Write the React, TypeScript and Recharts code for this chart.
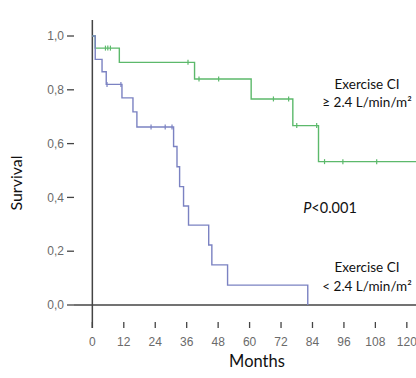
import React from 'react';
import {
  ComposedChart,
  Line,
  Scatter,
  XAxis,
  YAxis,
  ReferenceLine,
} from 'recharts';

// Kaplan–Meier steps: month at which survival changes, and the new survival
const highMonths = [0, 1.1, 10.3, 39, 60.6, 76.5, 86.3, 123.5];
const highSurvival = [1.0, 0.955, 0.902, 0.84, 0.766, 0.667, 0.533, 0.533];
const highCensorMonths = [5.0, 5.9, 6.9, 36.5, 40.7, 48.2, 69.1, 74.9, 78.0, 85.6, 88.6, 95.6, 108.5];
const highCensorSurvival = [0.955, 0.955, 0.955, 0.902, 0.84, 0.84, 0.766, 0.766, 0.667, 0.667, 0.533, 0.533, 0.533];

const lowMonths = [0, 1.1, 3.7, 5.3, 11.3, 15.5, 17, 31, 32.3, 33.3, 34.8, 36.7, 44.4, 45.6, 51.6, 82.2];
const lowSurvival = [1.0, 0.913, 0.867, 0.82, 0.77, 0.718, 0.662, 0.589, 0.514, 0.44, 0.368, 0.297, 0.223, 0.149, 0.074, 0];
const lowCensorMonths = [5.6, 10.9, 22.4, 27.8, 30.4];
const lowCensorSurvival = [0.82, 0.82, 0.662, 0.662, 0.662];

const monthTicks = [0, 12, 24, 36, 48, 60, 72, 84, 96, 108, 120];
const survivalTicks = [0, 0.2, 0.4, 0.6, 0.8, 1.0];

const GREEN = '#5cb96b';
const BLUE = '#7b82c2';
const AXIS = '#444';
const TICK_TEXT = '#6a6a6a';

const toPoints = (xs: number[], ys: number[]) => xs.map((t, i) => ({ t, s: ys[i] }));

const highData = toPoints(highMonths, highSurvival);
const lowData = toPoints(lowMonths, lowSurvival);
const highCensor = toPoints(highCensorMonths, highCensorSurvival);
const lowCensor = toPoints(lowCensorMonths, lowCensorSurvival);

const censorMark = (color: string) => (props: any) => {
  const { cx, cy } = props;
  return <line x1={cx} x2={cx} y1={cy - 2.5} y2={cy + 2.5} stroke={color} strokeWidth={1.2} />;
};

const MonthTick = (props: any) => {
  const { x, y, payload } = props;
  return (
    <g>
      <line x1={x} x2={x} y1={y - 12} y2={y - 6} stroke={AXIS} strokeWidth={1.3} />
      <text x={x} y={y + 12} textAnchor="middle" fontSize={12} fill={TICK_TEXT}
        fontFamily="'Liberation Sans', Arial, sans-serif">
        {payload.value}
      </text>
    </g>
  );
};

const fmtSurvival = (v: number) => v.toFixed(1).replace('.', ',');

export default function App() {
  const font = "Lato, 'Open Sans', sans-serif";
  return (
    <div style={{ position: 'absolute', left: 0, top: 0, width: 416, height: 378, background: '#fff' }}>
      <ComposedChart
        width={416}
        height={378}
        margin={{ top: 20, right: 0, bottom: 0, left: 0 }}
      >
        <XAxis
          dataKey="t"
          type="number"
          domain={[-7, 123.5]}
          allowDataOverflow
          ticks={monthTicks}
          axisLine={false}
          tickLine={false}
          tickSize={6}
          tickMargin={0}
          height={50}
          tick={<MonthTick />}
          interval={0}
        />
        <YAxis
          dataKey="s"
          type="number"
          domain={[-0.0855, 1.0595]}
          allowDataOverflow
          ticks={survivalTicks}
          width={74}
          axisLine={false}
          tickSize={7}
          tickMargin={3}
          tickLine={{ stroke: AXIS, strokeWidth: 1.3 }}
          tick={{ fontSize: 12, fill: TICK_TEXT, fontFamily: "'Liberation Sans', Arial, sans-serif" }}
          tickFormatter={fmtSurvival}
          interval={0}
        />
        <ReferenceLine y={0} stroke={AXIS} strokeWidth={1.5} ifOverflow="visible" />
        <ReferenceLine x={0} stroke={AXIS} strokeWidth={1.5} ifOverflow="visible" />
        <Line
          data={highData}
          dataKey="s"
          type="stepAfter"
          stroke={GREEN}
          strokeWidth={1.4}
          dot={false}
          activeDot={false}
          isAnimationActive={false}
        />
        <Line
          data={lowData}
          dataKey="s"
          type="stepAfter"
          stroke={BLUE}
          strokeWidth={1.4}
          dot={false}
          activeDot={false}
          isAnimationActive={false}
        />
        <Scatter data={highCensor} dataKey="s" shape={censorMark(GREEN)} isAnimationActive={false} />
        <Scatter data={lowCensor} dataKey="s" shape={censorMark(BLUE)} isAnimationActive={false} />
      </ComposedChart>
      <svg width={416} height={378} style={{ position: 'absolute', left: 0, top: 0, pointerEvents: 'none' }}>
        <text x={15} y={183} transform="rotate(-90 15 183)" textAnchor="middle" dominantBaseline="central"
          fontSize={16} fill="#111" fontFamily={font}>Survival</text>
        <text x={257} y={367} textAnchor="middle" fontSize={16.5} fill="#111" fontFamily={font}>Months</text>
        <text x={367} y={89} textAnchor="middle" fontSize={13.5} fill="#111" fontFamily={font}>Exercise CI</text>
        <text x={367} y={107} textAnchor="middle" fontSize={13.5} fill="#111" fontFamily={font}>≥ 2.4 L/min/m²</text>
        <text x={330} y={213} textAnchor="middle" fontSize={14.5} fill="#111" fontFamily={font}>
          <tspan fontStyle="italic">P</tspan>&lt;0.001
        </text>
        <text x={367} y={272} textAnchor="middle" fontSize={13.5} fill="#111" fontFamily={font}>Exercise CI</text>
        <text x={367} y={291} textAnchor="middle" fontSize={13.5} fill="#111" fontFamily={font}>&lt; 2.4 L/min/m²</text>
      </svg>
    </div>
  );
}
